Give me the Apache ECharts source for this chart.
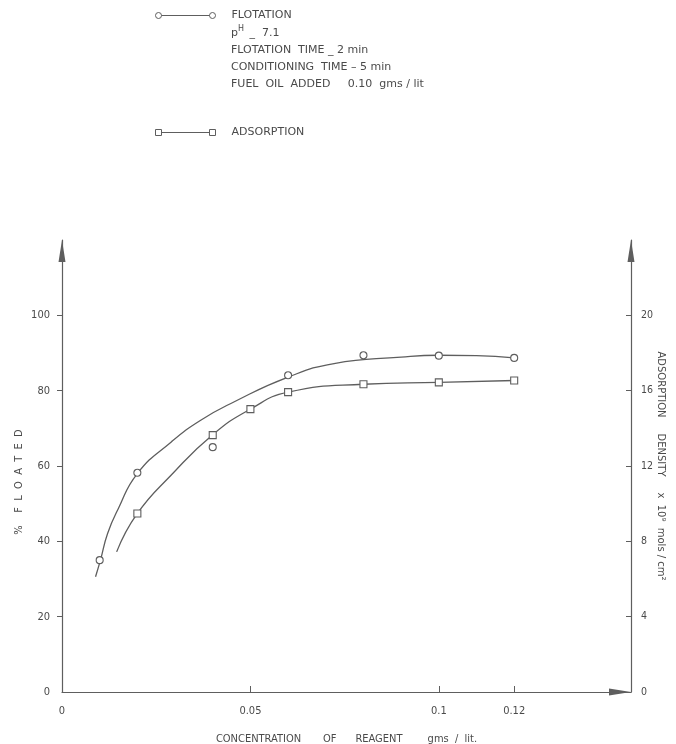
<!DOCTYPE html>
<html>
<head>
<meta charset="utf-8">
<script src="https://cdn.jsdelivr.net/npm/echarts@6/dist/echarts.min.js"></script>
<style>
  html, body { margin: 0; padding: 0; background: #fff; }
  #chart { width: 676px; height: 744px; }
</style>
</head>
<body>
<div id="chart"></div>
<script>
// measured points (x = gms/lit)
const flotationPoints = [
  [0.01, 35], [0.02, 58.2], [0.04, 65], [0.06, 84.1],
  [0.08, 89.4], [0.1, 89.3], [0.12, 88.7]
];
// adsorption density x 10^9 mols/cm^2 (right axis)
const adsorptionPoints = [
  [0.02, 9.48], [0.04, 13.64], [0.05, 15.02], [0.06, 15.92],
  [0.08, 16.34], [0.1, 16.44], [0.12, 16.54]
];
// hand-drawn fitted curves
const flotationCurve = [
  [0.0089, 30.6], [0.0102, 35], [0.0121, 42.1], [0.0149, 48.6], [0.02, 58], [0.029, 66.4],
  [0.0367, 72.1], [0.0456, 77], [0.06, 83.6], [0.0722, 87.2], [0.09, 88.9],
  [0.1, 89.4], [0.11, 89.3], [0.12, 88.7]
];
const adsorptionCurve = [
  [0.0145, 7.44], [0.02, 9.48], [0.029, 11.52], [0.04, 13.66], [0.05, 15.02],
  [0.06, 15.92], [0.08, 16.34], [0.1, 16.44], [0.12, 16.54]
];

const xTickLabels = [0, 0.05, 0.1, 0.12];
const xTicks = [0.05, 0.1, 0.12];
const leftTickLabels = [0, 20, 40, 60, 80, 100];
const leftTicks = [20, 40, 60, 80, 100];
const rightTickLabels = [0, 4, 8, 12, 16, 20];
const rightTicks = [4, 8, 12, 16, 20];

const conditions = [
  '{n|p}{s|H}{n| _  7.1}',
  'FLOTATION  TIME _ 2 min',
  'CONDITIONING  TIME – 5 min',
  'FUEL  OIL  ADDED     0.10  gms / lit'
];

const FONT = 'DejaVu Sans';
const NARROW = 'DejaVu Sans Condensed';
const INK = '#4a4a4a';
const LINE = '#5e5e5e';

const chart = echarts.init(document.getElementById('chart'));

const axisLineStyle = { color: LINE, width: 1.2 };
const arrow = {
  show: true, symbol: ['none', 'triangle'], symbolSize: [7, 22], symbolOffset: [0, -11],
  lineStyle: axisLineStyle
};
const labelStyle = { color: INK, fontFamily: NARROW, fontSize: 11 };

const option = {
  backgroundColor: '#fff',
  animation: false,
  title: {
    text: conditions.join('\n'),
    left: 226, top: 20,
    textStyle: {
      color: INK, fontFamily: FONT, fontSize: 11, fontWeight: 'normal', lineHeight: 17,
      rich: {
        n: { color: INK, fontFamily: FONT, fontSize: 11, lineHeight: 17 },
        s: { color: INK, fontFamily: FONT, fontSize: 8, verticalAlign: 'top', lineHeight: 17, padding: [0, 2, 0, 0] }
      }
    }
  },
  legend: {
    orient: 'vertical',
    left: 150, top: 5,
    itemWidth: 60, itemHeight: 7,
    itemGap: 106,
    textStyle: { color: INK, fontFamily: FONT, fontSize: 11, padding: [0, 0, 0, 11] },
    data: [
      {
        name: 'FLOTATION',
        icon: 'path://M0,4a3,3 0 1,0 6,0a3,3 0 1,0 -6,0M6,4L54,4M54,4a3,3 0 1,0 6,0a3,3 0 1,0 -6,0',
        itemStyle: { color: 'rgba(0,0,0,0)', borderColor: LINE, borderWidth: 1 }
      },
      {
        name: 'ADSORPTION',
        icon: 'path://M0,1h6v6h-6zM6,4L54,4M54,1h6v6h-6z',
        itemStyle: { color: 'rgba(0,0,0,0)', borderColor: LINE, borderWidth: 1 }
      }
    ]
  },
  grid: { left: 62, right: 45, top: 240, bottom: 52, containLabel: false, outerBoundsMode: 'none' },
  xAxis: {
    type: 'value', min: 0, max: 0.151,
    name: 'CONCENTRATION       OF      REAGENT        gms  /  lit.',
    nameLocation: 'middle', nameGap: 42, nameMoveOverlap: false,
    nameTextStyle: { color: INK, fontFamily: NARROW, fontSize: 11 },
    axisLine: arrow,
    axisTick: { show: true, inside: true, length: 6, customValues: xTicks, lineStyle: { color: LINE } },
    axisLabel: Object.assign({ customValues: xTickLabels, margin: 14 }, labelStyle),
    splitLine: { show: false }
  },
  yAxis: [
    {
      type: 'value', min: 0, max: 120, position: 'left',
      name: '%    F  L  O  A  T  E  D',
      nameLocation: 'middle', nameGap: 37, nameRotate: 90, nameMoveOverlap: false,
      nameTextStyle: { color: INK, fontFamily: NARROW, fontSize: 11, padding: [0, 32, 0, 0] },
      axisLine: arrow,
      axisTick: { show: true, length: 5, customValues: leftTicks, lineStyle: { color: LINE } },
      axisLabel: Object.assign({ customValues: leftTickLabels, margin: 12 }, labelStyle),
      splitLine: { show: false }
    },
    {
      type: 'value', min: 0, max: 24, position: 'right',
      name: 'ADSORPTION     DENSITY     x  10⁹  mols / cm²',
      nameLocation: 'middle', nameGap: 25, nameRotate: -90, nameMoveOverlap: false,
      nameTextStyle: { color: INK, fontFamily: FONT, fontSize: 10 },
      axisLine: arrow,
      axisTick: { show: true, inside: true, length: 5, customValues: rightTicks, lineStyle: { color: LINE } },
      axisLabel: Object.assign({ customValues: rightTickLabels, margin: 10 }, labelStyle, { fontSize: 10.5 }),
      splitLine: { show: false }
    }
  ],
  series: [
    {
      name: 'FLOTATION', type: 'line', data: flotationCurve,
      smooth: 0.5, showSymbol: false, silent: true,
      lineStyle: { color: LINE, width: 1.3 }, itemStyle: { color: LINE }, z: 2
    },
    {
      name: 'ADSORPTION', type: 'line', yAxisIndex: 1, data: adsorptionCurve,
      smooth: 0.5, showSymbol: false, silent: true,
      lineStyle: { color: LINE, width: 1.3 }, itemStyle: { color: LINE }, z: 2
    },
    {
      name: 'FLOTATION', type: 'scatter', data: flotationPoints,
      symbol: 'circle', symbolSize: 7,
      itemStyle: { color: '#fff', borderColor: LINE, borderWidth: 1.1, opacity: 1 }, z: 3
    },
    {
      name: 'ADSORPTION', type: 'scatter', yAxisIndex: 1, data: adsorptionPoints,
      symbol: 'rect', symbolSize: 7,
      itemStyle: { color: '#fff', borderColor: LINE, borderWidth: 1.1, opacity: 1 }, z: 3
    }
  ]
};

chart.setOption(option);
window.addEventListener('resize', () => chart.resize());
</script>
</body>
</html>
